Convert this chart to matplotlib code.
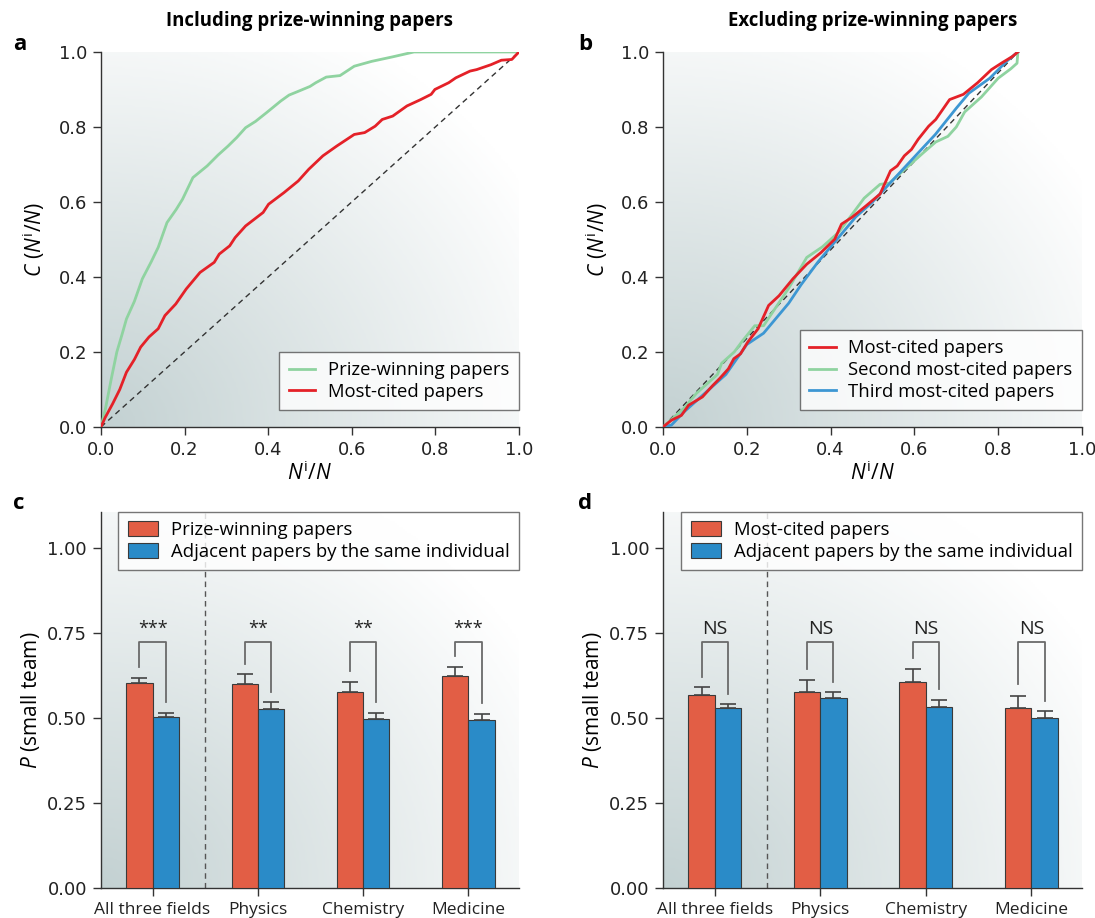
import numpy as np
import matplotlib
matplotlib.use("Agg")
import matplotlib.pyplot as plt
from matplotlib.colors import LinearSegmentedColormap

plt.rcParams['font.family'] = ['Open Sans', 'DejaVu Sans']
plt.rcParams['mathtext.fontset'] = 'custom'
plt.rcParams['mathtext.it'] = 'Open Sans:italic'
plt.rcParams['mathtext.rm'] = 'Open Sans'

# === DATOS ===
# panel a: incluyendo papers premiados
prize_x = [0.0, 0.011, 0.025, 0.038, 0.05, 0.061, 0.08, 0.099, 0.12, 0.137, 0.158, 0.18, 0.195,
           0.22, 0.254, 0.28, 0.304, 0.325, 0.346, 0.37, 0.396, 0.43, 0.45, 0.472, 0.5, 0.514,
           0.539, 0.572, 0.606, 0.648, 0.698, 0.749, 0.8, 0.9, 1.0]
prize_y = [0.0, 0.05, 0.13, 0.2, 0.245, 0.288, 0.335, 0.395, 0.44, 0.479, 0.545, 0.58, 0.607,
           0.665, 0.696, 0.725, 0.749, 0.772, 0.798, 0.815, 0.838, 0.869, 0.885, 0.895, 0.908, 0.918,
           0.933, 0.937, 0.962, 0.975, 0.987, 1.0, 1.0, 1.0, 1.0]
cited_x = [0.0, 0.01, 0.028, 0.045, 0.061, 0.08, 0.095, 0.115, 0.137, 0.153, 0.179, 0.204, 0.237,
           0.271, 0.283, 0.308, 0.321, 0.346, 0.388, 0.401, 0.438, 0.472, 0.497, 0.531, 0.564,
           0.606, 0.631, 0.656, 0.673, 0.698, 0.732, 0.765, 0.79, 0.799, 0.832, 0.849, 0.883,
           0.899, 0.933, 0.958, 0.983, 1.0]
cited_y = [0.0, 0.025, 0.062, 0.1, 0.146, 0.18, 0.213, 0.24, 0.262, 0.297, 0.328, 0.368, 0.412,
           0.439, 0.461, 0.483, 0.505, 0.536, 0.572, 0.594, 0.625, 0.656, 0.687, 0.723, 0.749,
           0.78, 0.785, 0.802, 0.82, 0.829, 0.856, 0.873, 0.887, 0.9, 0.918, 0.931, 0.949,
           0.953, 0.966, 0.978, 0.98, 1.0]

# panel b: excluyendo papers premiados
first_x = [0.0, 0.02, 0.044, 0.061, 0.094, 0.119, 0.135, 0.156, 0.169, 0.185, 0.202, 0.227, 0.252,
           0.277, 0.31, 0.343, 0.377, 0.41, 0.426, 0.451, 0.485, 0.518, 0.543, 0.559, 0.576,
           0.593, 0.609, 0.634, 0.651, 0.684, 0.717, 0.751, 0.784, 0.809, 0.834, 0.847]
first_y = [0.0, 0.018, 0.031, 0.058, 0.08, 0.111, 0.129, 0.155, 0.182, 0.195, 0.226, 0.262, 0.324,
           0.35, 0.395, 0.434, 0.465, 0.501, 0.541, 0.559, 0.59, 0.621, 0.683, 0.696, 0.723,
           0.74, 0.767, 0.802, 0.82, 0.873, 0.887, 0.918, 0.953, 0.971, 0.988, 1.0]
second_x = [0.0, 0.02, 0.05, 0.08, 0.1, 0.13, 0.14, 0.17, 0.19, 0.219, 0.24, 0.27, 0.3, 0.343,
            0.38, 0.42, 0.46, 0.48, 0.518, 0.54, 0.58, 0.62, 0.651, 0.68, 0.7, 0.72, 0.76, 0.8,
            0.83, 0.845, 0.847]
second_y = [0.0, 0.02, 0.05, 0.09, 0.11, 0.14, 0.17, 0.2, 0.23, 0.27, 0.27, 0.32, 0.37, 0.452,
            0.48, 0.52, 0.58, 0.61, 0.647, 0.65, 0.69, 0.73, 0.76, 0.775, 0.8, 0.84, 0.88, 0.93,
            0.955, 0.97, 1.0]
third_x = [0.0, 0.02, 0.05, 0.1, 0.15, 0.2, 0.24, 0.27, 0.3, 0.33, 0.37, 0.4, 0.43, 0.46, 0.5,
           0.55, 0.6, 0.65, 0.7, 0.73, 0.78, 0.82, 0.847]
third_y = [0.0, 0.005, 0.04, 0.09, 0.14, 0.22, 0.25, 0.29, 0.33, 0.38, 0.44, 0.48, 0.52, 0.56,
           0.6, 0.66, 0.72, 0.78, 0.85, 0.89, 0.93, 0.975, 1.0]

# paneles c y d
fields = ["All three fields", "Physics", "Chemistry", "Medicine"]
c_red = [0.602, 0.600, 0.575, 0.623]
c_red_err = [0.016, 0.029, 0.031, 0.028]
c_blue = [0.504, 0.525, 0.496, 0.494]
c_blue_err = [0.012, 0.021, 0.020, 0.017]
c_left_leg = [0.649, 0.660, 0.638, 0.682]
c_right_leg = [0.546, 0.575, 0.546, 0.543]
c_sig = ["***", "**", "**", "***"]

d_red = [0.568, 0.575, 0.605, 0.530]
d_red_err = [0.022, 0.038, 0.040, 0.036]
d_blue = [0.529, 0.558, 0.533, 0.501]
d_blue_err = [0.012, 0.019, 0.021, 0.020]
d_left_leg = [0.621, 0.644, 0.675, 0.599]
d_right_leg = [0.572, 0.607, 0.584, 0.551]
d_sig = ["NS", "NS", "NS", "NS"]

RED = "#e25e45"
BLUE = "#2a8bc8"
GREEN_L = "#8fd3a0"
RED_L = "#e42128"
BLUE_L = "#3d97d3"
SPINE = "#333333"

bg_cmap = LinearSegmentedColormap.from_list("bg", ["#ffffff", "#c3d1d2"])


def fondo(ax):
    xl, yl = ax.get_xlim(), ax.get_ylim()
    xx, yy = np.meshgrid(np.linspace(0, 1, 200), np.linspace(0, 1, 200))
    t = np.clip(1 - np.sqrt(xx ** 2 + yy ** 2) / 1.2, 0, 1)
    ax.imshow(t, extent=[xl[0], xl[1], yl[0], yl[1]], origin="lower", cmap=bg_cmap,
              vmin=0, vmax=1, aspect="auto", zorder=0, interpolation="bilinear")
    ax.set_xlim(xl)
    ax.set_ylim(yl)


def estilo(ax):
    for s in ["top", "right"]:
        ax.spines[s].set_visible(False)
    for s in ["left", "bottom"]:
        ax.spines[s].set_color(SPINE)
        ax.spines[s].set_linewidth(1.0)
    ax.tick_params(direction="out", length=6, width=1, color=SPINE, pad=4)
    for lab in ax.get_xticklabels() + ax.get_yticklabels():
        lab.set_family("DejaVu Sans")
        lab.set_fontsize(13)
        lab.set_color("#222222")


def leyenda(ax, handles=None, loc="lower right", anchor=(1.0, 0.045), patch=False):
    kw = dict(loc=loc, bbox_to_anchor=anchor, fontsize=13.3, frameon=True, fancybox=False,
              edgecolor="#555555", borderaxespad=0, borderpad=0.5, labelspacing=0.2,
              handletextpad=0.7)
    if patch:
        kw.update(handlelength=1.65, handleheight=0.85)
    else:
        kw.update(handlelength=1.45)
    if handles is not None:
        kw["handles"] = handles
    leg = ax.legend(**kw)
    leg.get_frame().set_linewidth(1.0)
    return leg


fig = plt.figure(figsize=(10.95, 9.18), dpi=100)
ax_a = fig.add_axes([0.0922, 0.5349, 0.3817, 0.4085])
ax_b = fig.add_axes([0.6055, 0.5349, 0.3826, 0.4085])
ax_c = fig.add_axes([0.0922, 0.0327, 0.3817, 0.4096])
ax_d = fig.add_axes([0.6055, 0.0327, 0.3826, 0.4096])

ticks = np.arange(0, 1.01, 0.2)

# === PANEL A ===
ax = ax_a
ax.set_xlim(0, 1)
ax.set_ylim(0, 1)
fondo(ax)
ax.plot([0, 1], [0, 1], ls=(0, (4, 3)), color="#333333", lw=1, zorder=2)
ax.plot(prize_x, prize_y, color=GREEN_L, lw=2, label="Prize-winning papers", zorder=3)
ax.plot(cited_x, cited_y, color=RED_L, lw=2, label="Most-cited papers", zorder=4)
ax.set_xticks(ticks)
ax.set_yticks(ticks)
ax.set_xticklabels([f"{v:.1f}" for v in ticks])
ax.set_yticklabels([f"{v:.1f}" for v in ticks])
ax.set_xlabel(r"$N^{\mathrm{i}}/N$", fontsize=15, labelpad=2)
ax.set_ylabel(r"$C\ (N^{\mathrm{i}}/N)$", fontsize=15, labelpad=8)
leyenda(ax)
ax.set_title("Including prize-winning papers", fontsize=13.4, fontweight="bold", pad=19)
estilo(ax)

# === PANEL B ===
ax = ax_b
ax.set_xlim(0, 1)
ax.set_ylim(0, 1)
fondo(ax)
ax.plot([0, 0.847], [0, 1], ls=(0, (4, 3)), color="#333333", lw=1, zorder=2)
ax.plot(second_x, second_y, color=GREEN_L, lw=2, zorder=3)
ax.plot(third_x, third_y, color=BLUE_L, lw=2, zorder=3)
ax.plot(first_x, first_y, color=RED_L, lw=2, zorder=4)
h1, = ax.plot([], [], color=RED_L, lw=2, label="Most-cited papers")
h2, = ax.plot([], [], color=GREEN_L, lw=2, label="Second most-cited papers")
h3, = ax.plot([], [], color=BLUE_L, lw=2, label="Third most-cited papers")
ax.set_xticks(ticks)
ax.set_yticks(ticks)
ax.set_xticklabels([f"{v:.1f}" for v in ticks])
ax.set_yticklabels([f"{v:.1f}" for v in ticks])
ax.set_xlabel(r"$N^{\mathrm{i}}/N$", fontsize=15, labelpad=2)
ax.set_ylabel(r"$C\ (N^{\mathrm{i}}/N)$", fontsize=15, labelpad=8)
leyenda(ax, handles=[h1, h2, h3])
ax.set_title("Excluding prize-winning papers", fontsize=13.4, fontweight="bold", pad=19)
estilo(ax)


# === PANELES C Y D ===
def barras(ax, red, red_err, blue, blue_err, left_leg, right_leg, sig, red_label, sig_size):
    x = np.arange(len(fields))
    w = 0.25
    ax.set_xlim(-0.49, 3.48)
    ax.set_ylim(0, 1.106)
    fondo(ax)
    ax.bar(x - w / 2, red, w, color=RED, edgecolor="#3a3a3a", linewidth=0.8,
           label=red_label, zorder=3)
    ax.bar(x + w / 2, blue, w, color=BLUE, edgecolor="#3a3a3a", linewidth=0.8,
           label="Adjacent papers by the same individual", zorder=3)
    ax.errorbar(x - w / 2, red, yerr=[np.zeros(len(red)), red_err], fmt="none",
                ecolor="#444444", elinewidth=1.2, capsize=6, capthick=1.2, zorder=4)
    ax.errorbar(x + w / 2, blue, yerr=[np.zeros(len(blue)), blue_err], fmt="none",
                ecolor="#444444", elinewidth=1.2, capsize=6, capthick=1.2, zorder=4)
    top = 0.723
    for i in range(len(fields)):
        ax.plot([x[i] - w / 2, x[i] - w / 2, x[i] + w / 2, x[i] + w / 2],
                [left_leg[i], top, top, right_leg[i]], color="#6a6a6a", lw=1.3, zorder=4)
        ax.text(x[i], 0.763, sig[i], ha="center", va="center", fontsize=sig_size,
                color="#222222", zorder=5)
    ax.axvline(0.5, ls=(0, (4, 3)), color="#555555", lw=1, zorder=2)
    ax.set_xticks(x)
    ax.set_xticklabels(fields)
    ax.set_yticks([0, 0.25, 0.5, 0.75, 1.0])
    ax.set_yticklabels(["0.00", "0.25", "0.50", "0.75", "1.00"])
    ax.set_ylabel(r"$P$ (small team)", fontsize=15, labelpad=4)
    leyenda(ax, loc="upper right", anchor=(1.0, 1.0), patch=True)
    estilo(ax)
    for lab in ax.get_xticklabels():
        lab.set_family("Open Sans")
        lab.set_fontsize(12.5)


barras(ax_c, c_red, c_red_err, c_blue, c_blue_err, c_left_leg, c_right_leg, c_sig,
       "Prize-winning papers", 13)
barras(ax_d, d_red, d_red_err, d_blue, d_blue_err, d_left_leg, d_right_leg, d_sig,
       "Most-cited papers", 14)

# letras de panel
for txt, xx, yy in [("a", 0.012, 0.94), ("b", 0.528, 0.94), ("c", 0.012, 0.44), ("d", 0.528, 0.44)]:
    fig.text(xx, yy, txt, fontsize=16, fontweight="bold", ha="left", va="bottom")

fig.savefig("out.png", dpi=100)
